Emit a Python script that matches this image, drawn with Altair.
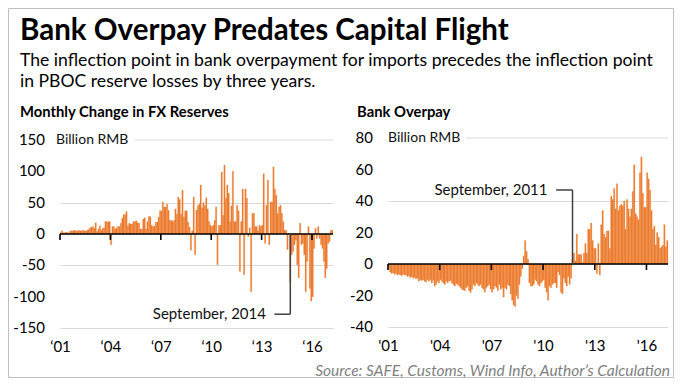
import json
import altair as alt
import pandas as pd

# ---------------- data (monthly, Jan 2001 - Mar 2017) ----------------
start_year = 2001
fx_reserve_change = [
    2, 5, 2, 2, 3, 2, 2, 5, 5, 5, 6, 5,
    5, 6, 5, 5, 6, 5, 5, 6, 7, 10, 11, 12,
    9, 18, 4, 8, 13, 6, 9, 10, 20, 20, 19, 20,
    -17, 12, 12, 8, 10, 12, 12, 17, 25, 31, 31, 36,
    13, 17, 16, 16, 20, 20, 21, 18, 17, 8, 8, 24,
    26, 8, 20, 28, 28, 14, 12, 13, 19, 19, 27, 37,
    37, 51, 43, 43, 48, 38, 22, 22, 20, 22, 40, 32,
    59, 55, 32, 70, 27, 37, 37, 19, 11, -26, 5, 59,
    -33, 38, 45, 48, 78, 42, 50, 45, 58, 40, 20, 14,
    12, 14, 22, 43, -49, 14, 14, 99, 30, 110, 57, 78,
    65, 20, 45, 100, 20, 20, 46, 37, -60, 20, 72, -65,
    72, 57, -4, 10, -92, 33, 33, 12, 12, 5, 14, 12,
    14, 96, -15, 46, 86, -17, 51, 51, 107, 72, 62, 33,
    43, 46, 33, 20, 6, 6, -25, 1, -78, -33, -28, -17,
    -10, -49, -70, 17, -17, -15, -33, -92, -44, 12, -87, -107,
    -100, -23, 9, -7, 12, -7, -17, -23, -44, -70, -55, -15,
    -12, 6, 6,
]
bank_overpay = [
    -3, -5, -6, -5.5, -6.5, -6, -7, -6.5, -7, -7.5, -6.5, -7,
    -7, -8, -7.5, -8.5, -8, -9, -8.5, -9.5, -9, -11, -10, -10.5,
    -10, -11, -11.5, -10, -11, -10, -12, -10.5, -14, -13, -11, -12,
    -10, -11, -12, -13, -11, -12, -11, -10.5, -12, -13, -14, -12.5,
    -13, -14, -15, -16, -16.5, -17, -15, -14, -17, -18, -16, -13,
    -14, -12, -13, -14, -13, -15, -16, -18, -15, -14, -13, -16,
    -18, -16, -14, -15, -17, -13, -16, -15, -21, -15, -16, -13,
    -14, -19, -23, -26, -27, -20, -22, -13, -8, -3, 5, 15,
    8, 3, -12, -14, -14, -13, -10, -11, -13, -14, -12, -11,
    -10, -15, -18, -23, -14, -15, -13, -12, -12, -15, -5, -7,
    -18, -19, -9, -12, -14, -8, -13, -9, 3, 7, 2, 19,
    6, 6, 6, 1, 7, 13, 7, 22, 22, 26, 15, 10,
    10, -6, 13, -7, 25, 34, 19, 17, 21, 21, 10, 43,
    41, 48, 35, 51, 34, 37, 38, 37, 40, 22, 41, 35,
    30, 35, 46, 63, 32, 30, 28, 58, 68, 45, 36, 36,
    58, 54, 47, 34, 22, 24, 12, 20, 17, 10, 11, 12,
    25, 11, 15,
]
tick_years = [2001, 2004, 2007, 2010, 2013, 2016]
left_tick_labels = ["\u201801", "\u201804", "\u201807", "\u201810", "\u201813", "\u201816"]
right_tick_labels = ["'01", "'04", "'07", "'10", "'13", "'16"]
fx_y_ticks = [150, 100, 50, 0, -50, -100, -150]
overpay_y_ticks = [80, 60, 40, 20, 0, -20, -40]

title_text = "Bank Overpay Predates Capital Flight"
subtitle_lines = [
    "The inflection point in bank overpayment for imports precedes the inflection point",
    "in PBOC reserve losses by three years.",
]
left_title = "Monthly Change in FX Reserves"
right_title = "Bank Overpay"
unit_label = "Billion RMB"
left_note = "September,  2014"
left_note_date = 2014 + 8.5 / 12
right_note = "September,  2011"
right_note_date = 2011 + 8.5 / 12
source_text = "Source: SAFE, Customs, Wind Info, Author\u2019s Calculation"

# ---------------- styling ----------------
FONT = "Lato"
ORANGE = "#ED7D31"
GRID = "#d9d9d9"
x_end = start_year + len(fx_reserve_change) / 12

def monthly_frame(values):
    return pd.DataFrame({
        "t": [start_year + i / 12 for i in range(len(values))],
        "t2": [start_year + (i + 1) / 12 for i in range(len(values))],
        "v": values,
    })

def label_expr(years, labels):
    expr = "''"
    for yv, lab in reversed(list(zip(years, labels))):
        expr = f"datum.value == {yv} ? {json.dumps(lab)} : ({expr})"
    return expr

one = pd.DataFrame({"k": [0]})
ticks_df = pd.DataFrame({"year": tick_years})

def panel(values, y_domain, y_ticks, tick_labels, tick_len,
          note, note_date, note_y, unit_grid_start, unit_dx):
    df = monthly_frame(values)
    xs = alt.Scale(domain=[start_year, x_end], nice=False, zero=False)
    ys = alt.Scale(domain=y_domain, nice=False, zero=False)
    top = y_ticks[0]
    ylab_df = pd.DataFrame({"yv": y_ticks, "lab": [str(v) for v in y_ticks]})
    bars = alt.Chart(df).mark_bar(color=ORANGE, stroke=ORANGE, strokeWidth=0.2).encode(
        x=alt.X("t:Q", scale=xs, axis=alt.Axis(
            values=tick_years, labelExpr=label_expr(tick_years, tick_labels),
            domain=False, ticks=False, grid=False, title=None,
            labelFont=FONT, labelFontSize=15, labelColor="#000", labelPadding=11,
            labelFlush=False, labelOverlap=False)),
        x2="t2:Q",
        y=alt.Y("v:Q", scale=ys, stack=None, axis=alt.Axis(
            values=y_ticks, labels=False, domain=False, ticks=False,
            grid=True, gridColor=GRID, gridWidth=1,
            gridOpacity={"condition": {"test": f"datum.value == {top}", "value": 0}, "value": 1},
            title=None)),
        y2=alt.datum(0),
    )
    ylabels = alt.Chart(ylab_df).mark_text(
        font=FONT, fontSize=15, align="right", baseline="middle", color="#000").encode(
        x=alt.value(-15), y="yv:Q", text="lab:N")
    top_grid = alt.Chart(one).mark_rule(color=GRID, strokeWidth=1).encode(
        x=alt.datum(unit_grid_start), x2=alt.datum(x_end), y=alt.datum(top))
    unit = alt.Chart(one).mark_text(
        text=unit_label, font=FONT, fontSize=14, align="left", baseline="middle",
        color="#111", dx=unit_dx).encode(x=alt.datum(start_year), y=alt.datum(top))
    zero = alt.Chart(one).mark_rule(color="#000", strokeWidth=1.6).encode(y=alt.datum(0))
    tks = alt.Chart(ticks_df).mark_rule(color="#000", strokeWidth=1.6).encode(
        x="year:Q", y=alt.datum(0), y2=alt.datum(-tick_len))
    note_txt = alt.Chart(one).mark_text(
        text=note, font=FONT, fontSize=15, align="right", baseline="middle",
        color="#111").encode(x=alt.datum(note_date - 1.45), y=alt.datum(note_y))
    note_h = alt.Chart(one).mark_rule(color="#404040", strokeWidth=1.5).encode(
        x=alt.datum(note_date - 0.95), x2=alt.datum(note_date), y=alt.datum(note_y))
    note_v = alt.Chart(one).mark_rule(color="#404040", strokeWidth=1.5).encode(
        x=alt.datum(note_date), y=alt.datum(note_y), y2=alt.datum(0))
    return [bars, top_grid, zero, tks, ylabels, unit, note_h, note_v, note_txt]

left_top = 150 + 2 * 300 / 188
left_layers = panel(fx_reserve_change, [-150, left_top], fx_y_ticks, left_tick_labels,
                    9.5, left_note, left_note_date, -128, 2005.46, -4)
right_layers = panel(bank_overpay, [-40, 80], overpay_y_ticks, right_tick_labels,
                     3.8, right_note, right_note_date, 47, 2005.53, 0)

# frame + headline texts, positioned relative to left plot area
frame = alt.Chart(one).mark_rect(fill="white", fillOpacity=0, stroke="#bfbfbf", strokeWidth=1).encode(
    x=alt.value(-51.5), x2=alt.value(613.5), y=alt.value(-129.5), y2=alt.value(239.5))
title_mark = alt.Chart(one).mark_text(
    text=title_text, font=FONT, fontSize=29.5, fontWeight="bold", align="left",
    baseline="middle", color="#000").encode(x=alt.value(-40), y=alt.value(-107))
sub1 = alt.Chart(one).mark_text(
    text=subtitle_lines[0], font=FONT, fontSize=17.6, align="left",
    baseline="middle", color="#000").encode(x=alt.value(-40), y=alt.value(-77))
sub2 = alt.Chart(one).mark_text(
    text=subtitle_lines[1], font=FONT, fontSize=17.6, align="left",
    baseline="middle", color="#000").encode(x=alt.value(-40), y=alt.value(-56))
ltitle = alt.Chart(one).mark_text(
    text=left_title, font=FONT, fontSize=14.8, fontWeight="bold", align="left",
    baseline="middle", color="#000").encode(x=alt.value(-40), y=alt.value(-25))
rtitle = alt.Chart(one).mark_text(
    text=right_title, font=FONT, fontSize=14.8, fontWeight="bold", align="left",
    baseline="middle", color="#000").encode(x=alt.value(-31), y=alt.value(-25))
source = alt.Chart(one).mark_text(
    text=source_text, font=FONT, fontSize=15.5, fontStyle="italic", align="right",
    baseline="middle", color="#7f7f7f").encode(x=alt.value(282), y=alt.value(233))

left = alt.layer(*left_layers, frame, title_mark, sub1, sub2, ltitle).properties(width=273, height=190)
right = alt.layer(*right_layers, rtitle, source).properties(width=280, height=189)

chart = alt.hconcat(left, right, spacing=55, bounds="flush").properties(
    padding=0, background="white"
).configure_view(stroke=None)

chart.save("out.html", embed_options={"renderer": "svg", "actions": False})
